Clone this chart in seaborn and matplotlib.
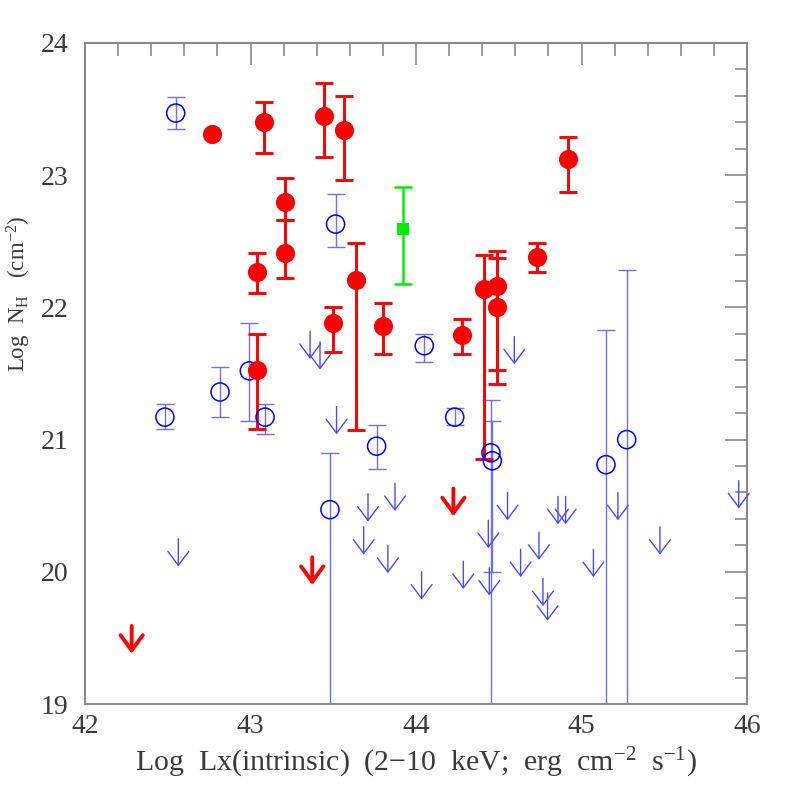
import numpy as np
import pandas as pd
import matplotlib
matplotlib.use("Agg")
import matplotlib.pyplot as plt
from matplotlib.ticker import MultipleLocator
import seaborn as sns

# --- data --------------------------------------------------------------------
# red detections: x, y, lower, upper (nan = no error bar)
red_x = [42.765, 43.083, 43.446, 43.563, 43.208, 43.208, 43.037, 43.636, 43.500,
         43.800, 43.040, 44.920, 44.730, 44.410, 44.487, 44.490, 44.280]
red_y = [23.31, 23.40, 23.45, 23.34, 22.80, 22.41, 22.27, 22.21, 21.88,
         21.86, 21.53, 23.12, 22.38, 22.14, 22.16, 22.00, 21.79]
red_lo = [np.nan, 23.17, 23.135, 22.96, 22.66, 22.22, 22.11, 21.07, 21.66,
          21.645, 21.08, 22.87, 22.265, 20.85, 21.53, 21.42, 21.65]
red_hi = [np.nan, 23.556, 23.70, 23.60, 22.98, 22.66, 22.41, 22.49, 22.00,
          22.03, 21.80, 23.29, 22.485, 22.40, 22.43, 22.37, 21.915]

# blue detections (lower 18.0 = bar runs off the bottom)
blue_x = [42.548, 43.514, 42.483, 42.816, 42.993, 43.088, 43.762, 43.480,
          44.050, 44.234, 44.453, 44.461, 45.148, 45.273]
blue_y = [23.47, 22.63, 21.17, 21.36, 21.52, 21.17, 20.95, 20.47,
          21.71, 21.17, 20.90, 20.84, 20.81, 21.00]
blue_lo = [23.35, 22.455, 21.08, 21.17, 21.14, 21.04, 20.78, 18.0,
           21.59, 21.11, 18.0, 20.00, 18.0, 18.0]
blue_hi = [23.59, 22.86, 21.27, 21.55, 21.88, 21.27, 21.11, 20.90,
           21.80, 21.24, 21.30, 21.14, 21.83, 22.28]

# green detection
green_x = [43.92]
green_y = [22.59]
green_lo = [22.175]
green_hi = [22.91]

# upper limits
red_ul_x = [42.282, 43.373, 44.226]
red_ul_y = [19.59, 20.11, 20.63]

blue_ul_x = [43.360, 43.420, 42.564, 43.520, 43.710, 43.873, 43.684, 43.830,
             44.594, 44.553, 44.858, 44.904, 45.220, 45.950, 44.437, 44.743,
             45.474, 44.034, 44.286, 44.443, 44.632, 45.072, 44.767, 44.795]
blue_ul_y = [21.82, 21.74, 20.25, 21.25, 20.59, 20.67, 20.34, 20.20,
             21.78, 20.60, 20.57, 20.57, 20.60, 20.69, 20.39, 20.30,
             20.34, 20.00, 20.08, 20.03, 20.17, 20.17, 19.95, 19.84]

ARROW_LEN = 0.21

# --- plot --------------------------------------------------------------------
sns.set_style("white")
plt.rcParams['font.family'] = ['Liberation Serif', 'DejaVu Serif']
plt.rcParams['mathtext.fontset'] = 'custom'
plt.rcParams['mathtext.rm'] = 'Liberation Serif'
plt.rcParams['mathtext.it'] = 'Liberation Serif:italic'

TEXT = '#3a3a3a'
SPINE = '#8a8a8a'

fig = plt.figure(figsize=(7.89, 7.89), dpi=100)
ax = fig.add_axes([85 / 789, 85 / 789, 662 / 789, 661 / 789])

red = pd.DataFrame({'x': red_x, 'y': red_y, 'lo': red_lo, 'hi': red_hi})
blue = pd.DataFrame({'x': blue_x, 'y': blue_y, 'lo': blue_lo, 'hi': blue_hi})
green = pd.DataFrame({'x': green_x, 'y': green_y, 'lo': green_lo, 'hi': green_hi})

# error bars
blue_err = [blue['y'] - blue['lo'], blue['hi'] - blue['y']]
ax.errorbar(blue['x'], blue['y'], yerr=blue_err, fmt='none', ecolor='#6f6fff',
            elinewidth=1.0, capsize=6.8, capthick=1.0, zorder=2)
red_e = red.dropna()
ax.errorbar(red_e['x'], red_e['y'], yerr=[red_e['y'] - red_e['lo'], red_e['hi'] - red_e['y']],
            fmt='none', ecolor='#ff0000', elinewidth=2.1, capsize=6.5, capthick=2.1, zorder=3)
ax.errorbar(green['x'], green['y'], yerr=[green['y'] - green['lo'], green['hi'] - green['y']],
            fmt='none', ecolor='#00ee00', elinewidth=1.8, capsize=6.5, capthick=1.8, zorder=3)

# markers
sns.scatterplot(data=blue, x='x', y='y', ax=ax, marker='o', s=170,
                facecolor='none', edgecolor='#0000ff', linewidth=1.1, zorder=4)
sns.scatterplot(data=red, x='x', y='y', ax=ax, marker='o', s=190,
                color='#ff0000', edgecolor='#ff0000', linewidth=0, zorder=5)
sns.scatterplot(data=green, x='x', y='y', ax=ax, marker='s', s=80,
                color='#00ee00', edgecolor='#00ee00', linewidth=0, zorder=5)

# upper limit arrows
for x, y in zip(blue_ul_x, blue_ul_y):
    ax.annotate('', xy=(x, y - ARROW_LEN), xytext=(x, y),
                arrowprops=dict(arrowstyle='->, head_length=1.0, head_width=0.75',
                                color='#4a4aff', lw=1.0, shrinkA=0, shrinkB=0), zorder=3)
for x, y in zip(red_ul_x, red_ul_y):
    ax.annotate('', xy=(x, y - ARROW_LEN), xytext=(x, y),
                arrowprops=dict(arrowstyle='->, head_length=1.1, head_width=0.8',
                                color='#ff0000', lw=2.8, shrinkA=0, shrinkB=0), zorder=3)

# axes
ax.set_xlim(42, 46)
ax.set_ylim(19, 24)
ax.xaxis.set_major_locator(MultipleLocator(1))
ax.xaxis.set_minor_locator(MultipleLocator(0.2))
ax.yaxis.set_major_locator(MultipleLocator(1))
ax.yaxis.set_minor_locator(MultipleLocator(0.2))
ax.tick_params(which='both', direction='in', top=True, right=True, color=SPINE,
               width=1.2, labelcolor=TEXT, labelsize=20)
ax.tick_params(which='major', length=16)
ax.tick_params(which='minor', length=9)
ax.tick_params(axis='x', which='major', pad=7)
ax.tick_params(axis='y', which='major', pad=12)
for s in ax.spines.values():
    s.set_color(SPINE)
    s.set_linewidth(1.5)

ax.set_xlabel(r'Log  Lx(intrinsic)  (2$-$10  keV;  erg  cm$^{-2}$  s$^{-1}$)',
              fontsize=21.5, color=TEXT, labelpad=5)
ax.set_ylabel(r'Log  N$_{\rm H}$   (cm$^{-2}$)', fontsize=16.5, color=TEXT)
ax.yaxis.set_label_coords(-0.078, 0.62)

fig.savefig('out.png', dpi=100)
